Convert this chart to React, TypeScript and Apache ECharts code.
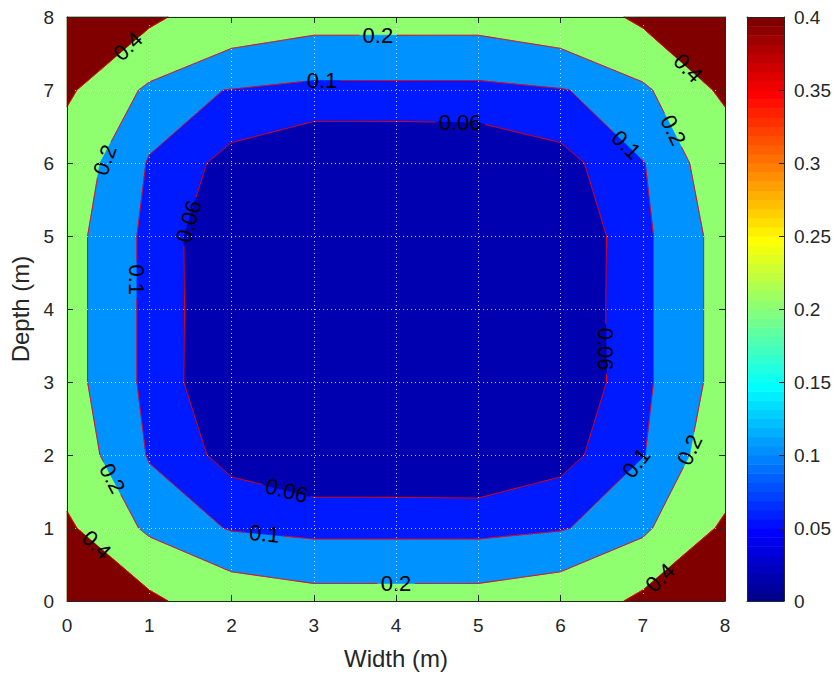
import React, { useEffect, useRef } from "react";
import * as echarts from "echarts";

// ---- axis ticks ----
const xTicks = [0, 1, 2, 3, 4, 5, 6, 7, 8];
const colorbarTicks = [0, 0.05, 0.1, 0.15, 0.2, 0.25, 0.3, 0.35, 0.4];

// ---- contour lines (data coordinates, Width m / Depth m) ----
const contour02: number[][] = [
  [3, 7.75], [2, 7.57], [1, 7.11], [0.87, 7], [0.4, 6], [0.25, 5], [0.25, 4], [0.25, 3],
  [0.4, 2], [0.87, 1], [1, 0.88], [2, 0.4], [3, 0.24], [4, 0.24], [5, 0.24], [6, 0.4],
  [7, 0.87], [7.12, 1], [7.57, 2], [7.74, 3], [7.74, 4], [7.74, 5], [7.57, 6], [7.12, 7],
  [7, 7.11], [6, 7.57], [5, 7.75], [4, 7.75],
];
const contour01: number[][] = [
  [2, 7.01], [3, 7.13], [4, 7.13], [5, 7.13], [6, 7.02], [6.11, 7], [7.03, 6], [7.13, 5],
  [7.13, 4], [7.13, 3], [7.03, 2], [6.12, 1], [6, 0.96], [5, 0.85], [4, 0.85], [3, 0.85],
  [2, 0.96], [1.9, 1], [1, 1.89], [0.96, 2], [0.85, 3], [0.85, 4], [0.85, 5], [0.96, 6],
  [1, 6.11], [1.9, 7],
];
const contour006: number[][] = [
  [1.7, 6], [2, 6.28], [3, 6.57], [4, 6.57], [5, 6.55], [6, 6.28], [6.29, 6], [6.56, 5],
  [6.55, 4], [6.56, 3], [6.29, 2], [6, 1.7], [5, 1.41], [4, 1.42], [3, 1.42], [2, 1.7],
  [1.7, 2], [1.42, 3], [1.43, 4], [1.42, 5],
];
const contour04TL: number[][] = [[0, 6.77], [0.12, 7], [1, 7.85], [1.23, 8]];
const contour04TR: number[][] = [[6.77, 8], [7, 7.85], [7.85, 7], [8, 6.77]];
const contour04BL: number[][] = [[0, 1.23], [0.12, 1], [1, 0.15], [1.23, 0]];
const contour04BR: number[][] = [[6.77, 0], [7, 0.15], [7.88, 1], [8, 1.2]];

// ---- contour labels ----
const labelTexts = ["0.4", "0.2", "0.1", "0.06", "0.2", "0.06", "0.1", "0.1", "0.2", "0.4",
  "0.06", "0.1", "0.2", "0.4", "0.2", "0.1", "0.06", "0.2", "0.4"];
const labelX = [0.74, 3.78, 3.1, 4.78, 0.46, 1.48, 0.85, 6.8, 7.37, 7.55,
  6.55, 6.92, 7.57, 7.21, 4.0, 2.4, 2.67, 0.55, 0.36];
const labelY = [7.6, 7.75, 7.13, 6.55, 6.04, 5.2, 4.4, 6.25, 6.45, 7.3,
  3.45, 1.89, 2.07, 0.32, 0.24, 0.92, 1.51, 1.68, 0.77];
const labelAngle = [43.5, 0, 0, 0, 70, 74, -90, -44, -64, -45,
  -90, 52, 65, 44, 0, -6, -14, -62, -44];

// ---- colours ----
const cRed = "rgb(128,0,0)";
const cGreen = "rgb(143,255,112)";
const cLightBlue = "rgb(0,146,255)";
const cBlue = "rgb(0,26,255)";
const cNavy = "rgb(0,0,176)";

const square: number[][] = [[0, 0], [8, 0], [8, 8], [0, 8]];
const fills = [
  { poly: square, color: cGreen },
  { poly: [[0, 8], ...contour04TL], color: cRed },
  { poly: [[8, 8], ...contour04TR], color: cRed },
  { poly: [[0, 0], ...contour04BL], color: cRed },
  { poly: [[8, 0], ...contour04BR], color: cRed },
  { poly: contour02, color: cLightBlue },
  { poly: contour01, color: cBlue },
  { poly: contour006, color: cNavy },
];
const lines = [
  { pts: contour02, closed: true },
  { pts: contour01, closed: true },
  { pts: contour006, closed: true },
  { pts: contour04TL, closed: false },
  { pts: contour04TR, closed: false },
  { pts: contour04BL, closed: false },
  { pts: contour04BR, closed: false },
];

function jet(t: number): string {
  const c = (v: number) => Math.round(255 * Math.max(0, Math.min(1, v)));
  const r = c(1.5 - Math.abs(4 * t - 3));
  const g = c(1.5 - Math.abs(4 * t - 2));
  const b = c(1.5 - Math.abs(4 * t - 1));
  return `rgb(${r},${g},${b})`;
}
const N_COLORS = 64;
const cbBins = Array.from({ length: N_COLORS }, (_, i) => i);

const FONT = "'Liberation Sans', Arial, Helvetica, sans-serif";
const LABEL_FS = 22;
const TICK_FS = 19;
const NAME_FS = 24;
const TXT = "#262626";

function textWidth(s: string, fs: number) {
  let w = 0;
  for (const ch of s) w += ch === "." ? 0.278 * fs : 0.556 * fs;
  return w;
}

export default function App() {
  const ref = useRef<HTMLDivElement>(null);
  useEffect(() => {
    if (!ref.current) return;
    const chart = echarts.init(ref.current, null, { renderer: "svg" });

    const axisLineStyle = { color: TXT, width: 1 };
    const option: any = {
      animation: false,
      backgroundColor: "#ffffff",
      grid: [
        { left: 67, top: 17, width: 658, height: 584, outerBoundsMode: "none", containLabel: false },
        { left: 747, top: 17, width: 37, height: 584, outerBoundsMode: "none", containLabel: false },
      ],
      xAxis: [
        {
          type: "value", gridIndex: 0, position: "bottom", min: 0, max: 8, interval: 1, z: 10,
          axisLine: { show: true, onZero: false, lineStyle: axisLineStyle },
          axisTick: { show: true, inside: true, length: 6, lineStyle: axisLineStyle },
          axisLabel: { show: true, fontSize: TICK_FS, color: TXT, fontFamily: FONT, margin: 15,
            formatter: (v: number) => (xTicks.includes(v) ? String(v) : "") },
          splitLine: { show: true, lineStyle: { type: [1, 3], color: "rgba(255,255,255,0.75)", width: 1 } },
          name: "Width (m)", nameLocation: "middle", nameGap: 45,
          nameTextStyle: { fontSize: NAME_FS, color: TXT, fontFamily: FONT },
        },
        {
          type: "value", gridIndex: 0, position: "top", min: 0, max: 8, interval: 1, z: 10,
          axisLine: { show: true, onZero: false, lineStyle: axisLineStyle },
          axisTick: { show: true, inside: true, length: 6, lineStyle: axisLineStyle },
          axisLabel: { show: false }, splitLine: { show: false },
        },
        {
          type: "value", gridIndex: 1, position: "bottom", min: 0, max: 1, z: 10,
          axisLine: { show: true, onZero: false, lineStyle: axisLineStyle },
          axisTick: { show: false }, axisLabel: { show: false }, splitLine: { show: false },
        },
        {
          type: "value", gridIndex: 1, position: "top", min: 0, max: 1, z: 10,
          axisLine: { show: true, onZero: false, lineStyle: axisLineStyle },
          axisTick: { show: false }, axisLabel: { show: false }, splitLine: { show: false },
        },
      ],
      yAxis: [
        {
          type: "value", gridIndex: 0, position: "left", min: 0, max: 8, interval: 1, z: 10,
          axisLine: { show: true, onZero: false, lineStyle: axisLineStyle },
          axisTick: { show: true, inside: true, length: 6, lineStyle: axisLineStyle },
          axisLabel: { show: true, fontSize: TICK_FS, color: TXT, fontFamily: FONT, margin: 13 },
          splitLine: { show: true, lineStyle: { type: [1, 3], color: "rgba(255,255,255,0.75)", width: 1 } },
          name: "Depth (m)", nameLocation: "middle", nameGap: 31,
          nameTextStyle: { fontSize: NAME_FS, color: TXT, fontFamily: FONT },
        },
        {
          type: "value", gridIndex: 0, position: "right", min: 0, max: 8, interval: 1, z: 10,
          axisLine: { show: true, onZero: false, lineStyle: axisLineStyle },
          axisTick: { show: true, inside: true, length: 6, lineStyle: axisLineStyle },
          axisLabel: { show: false }, splitLine: { show: false },
        },
        {
          type: "value", gridIndex: 1, position: "left", min: 0, max: 0.4, interval: 0.05, z: 10,
          axisLine: { show: true, onZero: false, lineStyle: axisLineStyle },
          axisTick: { show: false }, axisLabel: { show: false }, splitLine: { show: false },
        },
        {
          type: "value", gridIndex: 1, position: "right", min: 0, max: 0.4, interval: 0.05, z: 10,
          axisLine: { show: true, onZero: false, lineStyle: axisLineStyle },
          axisTick: { show: true, inside: true, length: 5, lineStyle: axisLineStyle },
          axisLabel: {
            show: true, fontSize: TICK_FS, color: TXT, fontFamily: FONT, margin: 10,
            formatter: (v: number) => {
              const m = colorbarTicks.find((t) => Math.abs(t - v) < 1e-6);
              return m === undefined ? "" : String(m);
            },
          },
          splitLine: { show: false },
        },
      ],
      series: [
        {
          type: "custom", xAxisIndex: 0, yAxisIndex: 0, z: 1,
          data: fills.map((_, i) => [i]),
          renderItem: (params: any, api: any) => {
            const f = fills[params.dataIndex];
            const pts = f.poly.map((p) => api.coord(p));
            return {
              type: "polygon",
              shape: { points: pts },
              style: { fill: f.color, stroke: f.color, lineWidth: 0.6 },
            };
          },
        },
        {
          type: "custom", xAxisIndex: 0, yAxisIndex: 0, z: 2,
          data: lines.map((_, i) => [i]),
          renderItem: (params: any, api: any) => {
            const ln = lines[params.dataIndex];
            const src = ln.pts.map((p) => api.coord(p));
            if (ln.closed) src.push(src[0]);
            const holes = labelTexts.map((t, k) => {
              const c = api.coord([labelX[k], labelY[k]]);
              return { x: c[0], y: c[1], r: textWidth(t, LABEL_FS) / 2 + 3 };
            });
            const dense: number[][] = [];
            for (let i = 0; i < src.length - 1; i++) {
              const a = src[i], b = src[i + 1];
              const len = Math.hypot(b[0] - a[0], b[1] - a[1]);
              const n = Math.max(1, Math.ceil(len / 1));
              for (let j = 0; j < n; j++) {
                dense.push([a[0] + ((b[0] - a[0]) * j) / n, a[1] + ((b[1] - a[1]) * j) / n]);
              }
            }
            dense.push(src[src.length - 1]);
            const runs: number[][][] = [];
            let cur: number[][] = [];
            for (const p of dense) {
              const inHole = holes.some((h) => Math.hypot(p[0] - h.x, p[1] - h.y) < h.r);
              if (inHole) {
                if (cur.length > 1) runs.push(cur);
                cur = [];
              } else cur.push(p);
            }
            if (cur.length > 1) runs.push(cur);
            return {
              type: "group",
              children: runs.map((r) => ({
                type: "polyline",
                shape: { points: r },
                style: { stroke: "#ff0000", lineWidth: 1, fill: null },
              })),
            };
          },
        },
        {
          type: "custom", xAxisIndex: 0, yAxisIndex: 0, z: 3,
          data: labelTexts.map((_, k) => [labelX[k], labelY[k]]),
          renderItem: (params: any, api: any) => {
            const k = params.dataIndex;
            const c = api.coord([api.value(0), api.value(1)]);
            return {
              type: "text",
              x: c[0], y: c[1],
              rotation: (labelAngle[k] * Math.PI) / 180,
              style: {
                text: labelTexts[k], fill: "#000000", fontSize: LABEL_FS, fontFamily: FONT,
                align: "center", verticalAlign: "middle",
              },
            };
          },
        },
        {
          type: "custom", xAxisIndex: 2, yAxisIndex: 2, z: 1,
          data: cbBins.map((i) => [i]),
          renderItem: (params: any, api: any) => {
            const i = params.dataIndex;
            const lo = (0.4 * i) / N_COLORS;
            const hi = (0.4 * (i + 1)) / N_COLORS;
            const p0 = api.coord([0, hi]);
            const p1 = api.coord([1, lo]);
            const col = jet((i + 1) / N_COLORS);
            return {
              type: "rect",
              shape: { x: p0[0], y: p0[1], width: p1[0] - p0[0], height: p1[1] - p0[1] + 0.5 },
              style: { fill: col, stroke: null },
            };
          },
        },
      ],
    };
    chart.setOption(option);
    return () => chart.dispose();
  }, []);
  return (
    <div
      ref={ref}
      style={{ position: "fixed", left: 0, top: 0, width: 839, height: 676, background: "#ffffff" }}
    />
  );
}
